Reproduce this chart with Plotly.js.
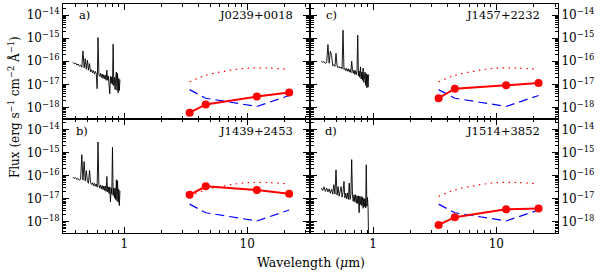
<!DOCTYPE html>
<html><head><meta charset="utf-8">
<script src="https://cdn.plot.ly/plotly-3.0.1.min.js"></script>
<style>html,body{margin:0;padding:0;background:#fff}#chart{width:600px;height:272px}</style>
</head><body><div id="chart"></div>
<script>
// optical spectrum wavelength grid (micron)
const wl = [0.38,0.39,0.40,0.41,0.42,0.43,0.44,0.45,0.46,0.47,0.48,0.49,0.50,0.51,0.52,0.53,0.54,0.55,0.56,0.57,0.58,0.59,0.60,0.61,0.62,0.63,0.64,0.65,0.66,0.67,0.68,0.69,0.70,0.71,0.72,0.73,0.74,0.75,0.76,0.77,0.78,0.79,0.80,0.81,0.82,0.83,0.84,0.85,0.86,0.87,0.88,0.89,0.90,0.91,0.92];
// spectra flux (erg s-1 cm-2 A-1)
const specA = [9.0e-17,7.8e-17,8.5e-17,6.9e-17,7.6e-17,6.1e-17,6.8e-17,5.5e-17,2.8e-16,5.2e-17,1.3e-16,4.5e-17,1.1e-16,4.1e-17,7.9e-17,3.5e-17,4.3e-17,3.2e-17,3.9e-17,2.8e-17,3.6e-17,2.9e-17,6.5e-18,1.07e-15,2.7e-17,2.2e-17,3.0e-17,2.0e-17,2.8e-17,1.8e-17,2.6e-17,1.7e-17,2.5e-17,1.5e-17,4.1e-17,1.5e-17,2.3e-17,1.2e-17,3.9e-18,2.2e-17,1.1e-17,2.1e-17,1.0e-17,5.5e-16,8.5e-18,2.0e-17,5.9e-18,1.9e-17,3.4e-17,5.5e-18,3.0e-17,4.2e-18,1.8e-17,5.4e-18,1.6e-17];
const specC = [1.0e-16,9.1e-17,9.6e-17,8.1e-17,8.9e-17,5.3e-16,8.2e-17,2.7e-16,1.8e-16,6.4e-17,7.0e-17,6.0e-17,2.2e-16,6.4e-17,5.3e-17,5.9e-17,5.0e-17,5.6e-17,4.7e-17,2.2e-15,4.4e-17,5.0e-17,3.9e-17,4.9e-17,3.7e-17,4.7e-17,3.5e-17,4.4e-17,3.2e-17,1.0e-16,4.3e-17,3.0e-17,4.1e-17,2.7e-17,3.9e-17,2.6e-17,3.7e-17,1.35e-15,2.3e-17,3.7e-17,2.0e-17,5.7e-17,1.7e-17,3.4e-17,1.5e-17,5.1e-17,1.2e-17,3.1e-17,3.4e-17,9.0e-18,2.9e-17,7.1e-18,2.6e-17,7.6e-18,2.7e-17];
const specB = [8.8e-17,7.6e-17,8.4e-17,6.9e-17,7.7e-17,6.4e-17,7.1e-17,8.2e-16,6.5e-17,4.1e-16,6.0e-17,1.65e-16,5.6e-17,4.7e-17,1.7e-16,5.1e-17,4.2e-17,5.0e-17,3.7e-17,4.7e-17,3.5e-17,4.4e-17,3.2e-17,2.9e-15,4.0e-17,2.9e-17,4.0e-17,2.7e-17,3.7e-17,2.5e-17,3.6e-17,2.3e-17,3.6e-17,2.1e-17,9.3e-17,2.0e-17,3.3e-17,1.7e-17,3.3e-17,7.4e-18,3.0e-17,1.6e-17,1.7e-15,1.4e-17,3.0e-17,1.1e-17,2.9e-17,9.4e-18,6.7e-17,8.2e-18,6.1e-17,7.1e-18,2.6e-17,5.1e-18,2.2e-17];
const specD = [2.9e-17,2.3e-17,3.3e-17,2.1e-17,2.9e-17,2.0e-17,2.7e-17,1.75e-17,2.6e-17,1.6e-17,4.1e-17,1.6e-17,1.8e-16,1.45e-17,3.4e-17,1.3e-17,2.1e-17,3.4e-17,1.2e-17,1.9e-17,5.7e-17,1.1e-17,1.75e-17,1.0e-17,1.8e-17,9.4e-18,4.8e-17,9.4e-18,1.5e-17,5.0e-16,1.45e-17,7.8e-18,1.5e-17,7.5e-18,1.5e-17,6.5e-18,1.35e-17,6.2e-18,1.35e-17,2.5e-18,1.3e-17,5.7e-18,1.25e-17,5.0e-18,1.2e-17,3.9e-18,1.05e-17,4.6e-18,1.0e-17,4.0e-18,3.0e-16,4.8e-18,1.15e-17,4.1e-18,1.0e-19];
// WISE photometry
const wiseWl = [3.4, 4.6, 12, 22];
const wiseA = [5.9e-19, 1.35e-18, 2.95e-18, 4.4e-18];
const wiseC = [2.5e-18, 6.5e-18, 9.1e-18, 1.15e-17];
const wiseB = [1.5e-17, 3.5e-17, 2.4e-17, 1.65e-17];
const wiseD = [7.4e-19, 1.6e-18, 3.5e-18, 3.8e-18];
// sensitivity limits (blue dashed)
const limitFlux = [5.9e-18, 2.5e-18, 1.1e-18, 3.3e-18];
// template (red dotted)
const tmplWl = [3.4, 4.6, 6.8, 9.9, 14.5, 22];
const tmplFlux = [1.26e-17, 2.45e-17, 3.8e-17, 5.0e-17, 5.1e-17, 4.4e-17];
const names = ['J0239+0018','J1457+2232','J1439+2453','J1514+3852'];
const letters = ['a)','c)','b)','d)'];
const yTickVals = [1e-18,1e-17,1e-16,1e-15,1e-14];
const yTickText = ['10<sup>−18</sup>','10<sup>−17</sup>','10<sup>−16</sup>','10<sup>−15</sup>','10<sup>−14</sup>'];

const specs = [specA, specC, specB, specD];
const wises = [wiseA, wiseC, wiseB, wiseD];
const FONT = 'DejaVu Serif';
const traces = [];
const sfx = ['', '2', '3', '4'];
for (let i = 0; i < 4; i++) {
  const xa = 'x' + sfx[i], ya = 'y' + sfx[i];
  traces.push({x: wl, y: specs[i], xaxis: xa, yaxis: ya, mode: 'lines', line: {color: 'black', width: 0.9}, hoverinfo: 'skip'});
  traces.push({x: tmplWl, y: tmplFlux, xaxis: xa, yaxis: ya, mode: 'lines', line: {color: '#ff0000', width: 1.2, dash: '1.5px,4.5px', shape: 'spline'}});
  traces.push({x: wiseWl, y: limitFlux, xaxis: xa, yaxis: ya, mode: 'lines', line: {color: '#0000ff', width: 1.2, dash: '9px,5px'}});
  traces.push({x: wiseWl, y: wises[i], xaxis: xa, yaxis: ya, mode: 'lines+markers', line: {color: '#ff0000', width: 2}, marker: {color: '#ff0000', size: 8}});
}

function xAxis(dom, anchor, labels) {
  return {domain: dom, anchor: anchor, type: 'log', range: [-0.5, 1.5], showline: true, linecolor: 'black', linewidth: 1,
    mirror: 'allticks', ticks: 'inside', ticklen: 6, tickcolor: 'black', tickwidth: 1,
    tickmode: 'array', tickvals: [1, 10], ticktext: ['1', '10'], showticklabels: labels,
    minor: {dtick: 'D1', ticks: 'inside', ticklen: 3, tickcolor: 'black', tickwidth: 1, showgrid: false},
    showgrid: false, zeroline: false, tickfont: {family: FONT, size: 12, color: 'black'}};
}
function yAxis(dom, anchor, side) {
  return {domain: dom, anchor: anchor, side: side, type: 'log', range: [-18.48, -13.52], showline: true, linecolor: 'black', linewidth: 1,
    mirror: 'allticks', ticks: 'inside', ticklen: 6, tickcolor: 'black', tickwidth: 1,
    tickmode: 'array', tickvals: yTickVals, ticktext: yTickText,
    minor: {dtick: 'D1', ticks: 'inside', ticklen: 3, tickcolor: 'black', tickwidth: 1, showgrid: false},
    showgrid: false, zeroline: false, tickfont: {family: FONT, size: 12, color: 'black'}};
}
const L = [0, 0.496], R = [0.502, 1], T = [0.5, 1], B = [0, 0.5];
const ann = [];
const axPos = [[0.055, 0.945], [0.052, 0.934], [0.045, 0.945], [0.048, 0.934]];
const yPos = [0.905, 0.905, 0.895, 0.895];
for (let i = 0; i < 4; i++) {
  ann.push({xref: 'x' + sfx[i] + ' domain', yref: 'y' + sfx[i] + ' domain', x: axPos[i][0], y: yPos[i], xanchor: 'left', yanchor: 'middle', text: letters[i], showarrow: false, font: {family: FONT, size: 11.5, color: 'black'}});
  ann.push({xref: 'x' + sfx[i] + ' domain', yref: 'y' + sfx[i] + ' domain', x: axPos[i][1], y: yPos[i], xanchor: 'right', yanchor: 'middle', text: names[i], showarrow: false, font: {family: FONT, size: 11.5, color: 'black'}});
}
ann.push({xref: 'paper', yref: 'paper', x: -0.099, y: 0.55, xanchor: 'center', yanchor: 'middle', textangle: -90, showarrow: false,
  text: 'Flux (erg s<sup>−1</sup> cm<sup>−2</sup> Å<sup>−1</sup>)', font: {family: FONT, size: 12, color: 'black'}});
ann.push({xref: 'paper', yref: 'paper', x: 0.502, y: -0.131, xanchor: 'center', yanchor: 'middle', showarrow: false,
  text: 'Wavelength (<i>μ</i>m)', font: {family: FONT, size: 12.5, color: 'black'}});

const layout = {
  width: 600, height: 272, margin: {l: 63, r: 42, t: 4, b: 39}, showlegend: false,
  paper_bgcolor: 'white', plot_bgcolor: 'white',
  xaxis: xAxis(L, 'y', false), yaxis: yAxis(T, 'x', 'left'),
  xaxis2: xAxis(R, 'y2', false), yaxis2: yAxis(T, 'x2', 'right'),
  xaxis3: xAxis(L, 'y3', true), yaxis3: yAxis(B, 'x3', 'left'),
  xaxis4: xAxis(R, 'y4', true), yaxis4: yAxis(B, 'x4', 'right'),
  annotations: ann
};
Plotly.newPlot('chart', traces, layout, {staticPlot: true, displayModeBar: false});
</script></body></html>
